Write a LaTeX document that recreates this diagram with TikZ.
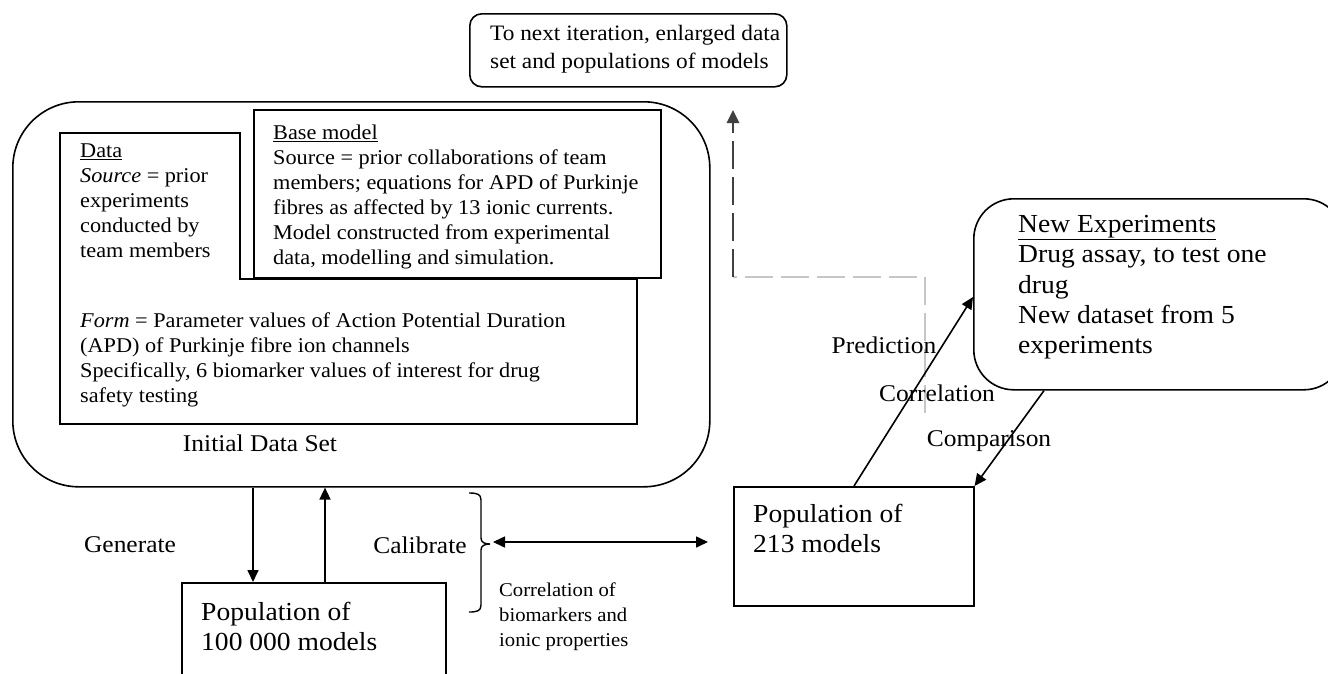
\documentclass[tikz,border=0pt]{standalone}
\usepackage{fontspec}
\setmainfont{Liberation Serif}[FakeStretch=1.06]
\usetikzlibrary{arrows.meta}
\begin{document}
\begin{tikzpicture}[x=1pt,y=-1pt,
  box/.style={draw,line width=1.6pt,fill=white,inner sep=0pt},
  txt/.style={inner sep=0pt,align=left,anchor=north west},
  arr/.style={line width=1.6pt,-{Triangle[length=12pt,width=11pt]}},
  darr/.style={line width=1.6pt,{Triangle[length=12pt,width=11pt]}-{Triangle[length=12pt,width=11pt]}},
  fA/.style={font=\fontsize{21}{25}\selectfont},
  fB/.style={font=\fontsize{26}{30.3}\selectfont},
  fC/.style={font=\fontsize{24}{28}\selectfont},
  fD/.style={font=\fontsize{19.5}{25}\selectfont},
  fE/.style={font=\fontsize{22}{28.5}\selectfont},
]
\useasboundingbox (0,0) rectangle (1328,673);
\fill[white] (0,0) rectangle (1328,673);

% top box
\node[box,rounded corners=12pt,minimum width=317pt,minimum height=73pt,anchor=north west] (next) at (469,13) {};
\node[txt,fE] (nexttxt) at (490,25) {To next iteration, enlarged data\\set and populations of models};

% initial data set
\node[box,rounded corners=66pt,minimum width=697pt,minimum height=385pt,anchor=north west] (init) at (12,101) {};

% data box outline
\draw[line width=1.6pt] (60,133) -- (240,133) -- (240,279) -- (637,279) -- (637,424) -- (60,424) -- cycle;
\node[txt,fA] (data) at (80,144) {\underline{Data}\\\textit{Source} = prior\\experiments\\conducted by\\team members};
\node[txt,fA] (form) at (80,313) {\textit{Form} = Parameter values of Action Potential Duration\\(APD) of Purkinje fibre ion channels\\Specifically, 6 biomarker values of interest for drug\\safety testing};

% base model
\node[box,minimum width=407pt,minimum height=168pt,anchor=north west] (base) at (253,109) {};
\node[txt,fA] (basetxt) at (273,125) {\underline{Base model}\\Source = prior collaborations of team\\members; equations for APD of Purkinje\\fibres as affected by 13 ionic currents.\\Model constructed from experimental\\data, modelling and simulation.};

\node[fC,inner sep=0pt] (initlbl) at (260,443) {Initial Data Set};

% population of 100000
\node[box,minimum width=264pt,minimum height=120pt,anchor=north west] (pop100) at (181,582) {};
\node[txt,fB] (pop100txt) at (201,602) {Population of\\100 000 models};

% labels
\node[fC,inner sep=0pt] (gen) at (130,545) {Generate};
\node[fC,inner sep=0pt] (cal) at (420,545) {Calibrate};
\node[txt,fD] (corr) at (499,583) {Correlation of\\biomarkers and\\ionic properties};

\coordinate (gx) at (253,0);
\coordinate (ux) at (325,0);
\draw[arr] (init.south -| gx) -- (pop100.north -| gx);
\draw[arr] (pop100.north -| ux) -- (init.south -| ux);

% bracket
\draw[line width=1.4pt,line join=round] (469,493) .. controls (477,493) and (481,494) .. (481,500) -- (481,538) .. controls (481,542) and (484,544) .. (490,544)
  (490,544) .. controls (484,544) and (481,546) .. (481,550) -- (481,605) .. controls (481,611) and (477,612) .. (469,612);
\coordinate (bt) at (493,542);
\coordinate (be) at (708,542);
\draw[darr] (bt) -- (be);

% population of 213
\node[box,minimum width=240pt,minimum height=119pt,anchor=north west] (pop213) at (733,486) {};
\node[txt,fB] (pop213txt) at (753,504) {Population of\\213 models};

% new experiments
\node[box,rounded corners=40pt,minimum width=370pt,minimum height=191pt,anchor=north west] (newexp) at (973,198) {};
\node[txt,fB] (newtxt) at (1018,215) {\underline{New Experiments}\\Drug assay, to test one\\drug\\New dataset from 5\\experiments};

% dashed feedback
\coordinate (d0) at (925,413);
\coordinate (d1) at (925,277);
\coordinate (d2) at (733,277);
\coordinate (d3) at (733,110);
\draw[line width=2.6pt,gray!45,dash pattern=on 28pt off 8pt] (d0) -- (d1) -- (d2);
\draw[line width=2.6pt,black!75,dash pattern=on 28pt off 8pt,-{Triangle[length=13pt,width=12pt]}] (d2) -- (d3);

% prediction / comparison
\coordinate (px) at (854,0);
\coordinate (py) at (0,297);
\coordinate (cx) at (1044,0);
\draw[arr] (pop213.north -| px) -- (newexp.west |- py);
\draw[arr] (newexp.south -| cx) -- (pop213.north east);

\node[fC,inner sep=0pt] (pred) at (884,345) {Prediction};
\node[fC,inner sep=0pt] (corl) at (937,393) {Correlation};
\node[fC,inner sep=0pt] (comp) at (989,441) {Comparison};
\end{tikzpicture}
\end{document}
